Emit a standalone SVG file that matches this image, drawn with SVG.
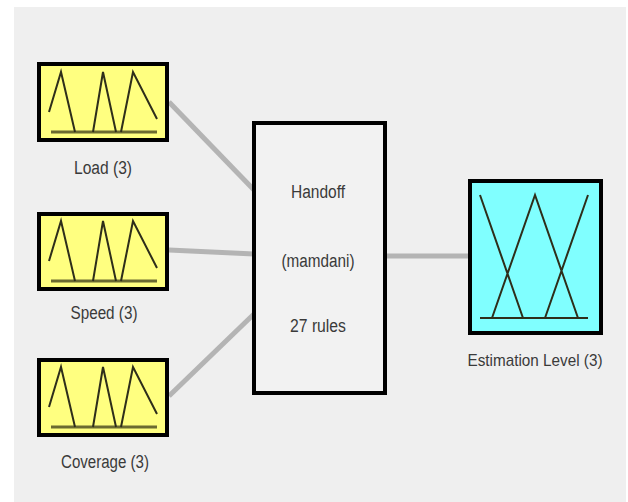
<svg xmlns="http://www.w3.org/2000/svg" xmlns:xlink="http://www.w3.org/1999/xlink" width="628" height="502" viewBox="0 0 628 502">
<style>
.box{stroke:#000;stroke-width:4}
.in{fill:#ffff80}
.out{fill:#80ffff}
.mid{fill:#f2f2f2}
.mf{fill:none;stroke:#2e2e1a;stroke-width:2;stroke-linejoin:miter}
.base{fill:none;stroke:#6b6b30;stroke-width:3}
.conn{stroke:#b4b4b4;stroke-width:5;fill:none}
.lbl{font-family:"Liberation Sans",Arial,sans-serif;font-size:18px;fill:#3a3a3a;text-anchor:middle}
</style>
<defs>
<g id="mf3">
<path class="base" d="M14,70 H120"/>
<path class="mf" d="M12,50 L24,10 L38,70 M56,70 L66,10 L79,70 M84,70 L96,10 L120,57"/>
</g>
</defs>
<rect x="0" y="0" width="628" height="502" fill="#ffffff"/>
<rect x="14" y="7" width="612" height="495" fill="#efefef"/>
<g id="connectors">
<line class="conn" x1="169" y1="102" x2="254" y2="190"/>
<line class="conn" x1="169" y1="250" x2="254" y2="254"/>
<line class="conn" x1="169" y1="396" x2="254" y2="314"/>
<line class="conn" x1="387" y1="256" x2="470" y2="256"/>
</g>
<g id="load">
<rect class="box in" x="39" y="64" width="128" height="76"/>
<use xlink:href="#mf3" x="37" y="62"/>
<text class="lbl" x="103" y="174" textLength="58" lengthAdjust="spacingAndGlyphs">Load (3)</text>
</g>
<g id="speed">
<rect class="box in" x="39" y="214" width="128" height="75"/>
<use xlink:href="#mf3" x="37" y="211"/>
<text class="lbl" x="104" y="319" textLength="67" lengthAdjust="spacingAndGlyphs">Speed (3)</text>
</g>
<g id="coverage">
<rect class="box in" x="39" y="360" width="128" height="75"/>
<use xlink:href="#mf3" x="37" y="357"/>
<text class="lbl" x="105" y="468" textLength="88" lengthAdjust="spacingAndGlyphs">Coverage (3)</text>
</g>
<g id="handoff">
<rect class="box mid" x="254" y="123" width="131" height="270"/>
<text class="lbl" x="318" y="198" textLength="54" lengthAdjust="spacingAndGlyphs">Handoff</text>
<text class="lbl" x="318" y="267" textLength="73" lengthAdjust="spacingAndGlyphs">(mamdani)</text>
<text class="lbl" x="318" y="332" textLength="56" lengthAdjust="spacingAndGlyphs">27 rules</text>
</g>
<g id="estimation">
<rect class="box out" x="470" y="181" width="131" height="152"/>
<path class="mf" d="M480,318 H588"/>
<path class="mf" d="M480,195 L523,318 M492,318 L535,195 L578,318 M545,318 L588,195"/>
<text class="lbl" x="535" y="366" style="font-size:17px" textLength="135" lengthAdjust="spacingAndGlyphs">Estimation Level (3)</text>
</g>
</svg>
